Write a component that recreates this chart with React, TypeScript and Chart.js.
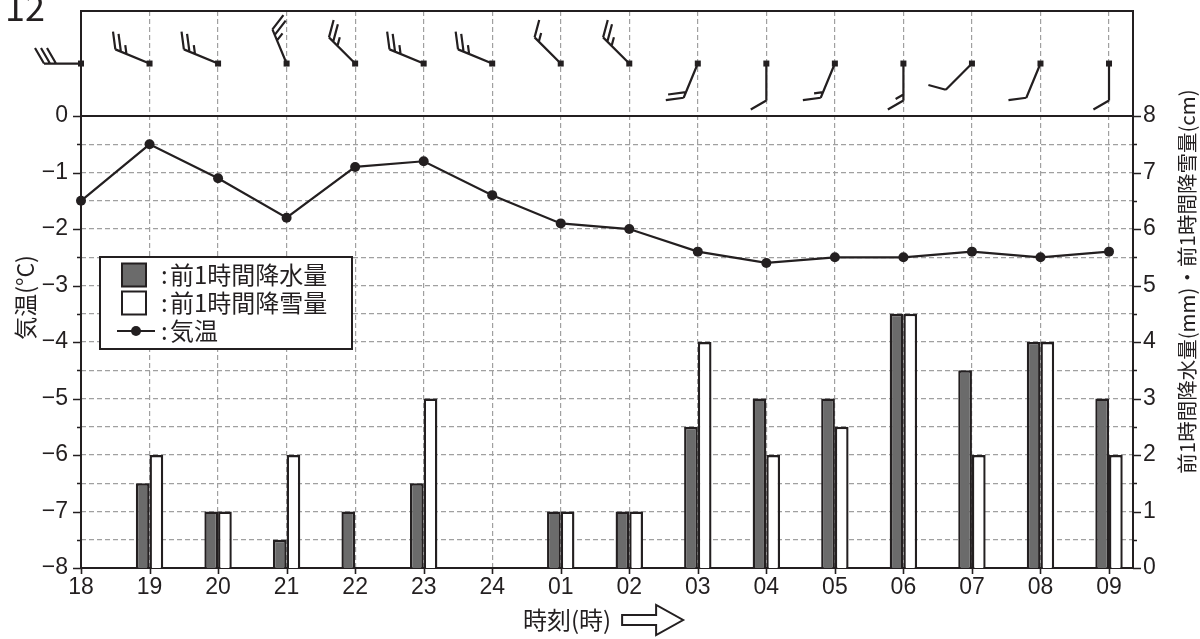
import React, { useEffect, useRef } from 'react';
import { Chart, registerables } from 'chart.js';

Chart.register(...registerables);

// ---- data ----
const hourLabels = ['18', '19', '20', '21', '22', '23', '24', '01', '02', '03', '04', '05', '06', '07', '08', '09'];
const temperature = [-1.5, -0.5, -1.1, -1.8, -0.9, -0.8, -1.4, -1.9, -2.0, -2.4, -2.6, -2.5, -2.5, -2.4, -2.5, -2.4];
const rainfall = [null, 1.5, 1, 0.5, 1, 1.5, 0, 1, 1, 2.5, 3, 3, 4.5, 3.5, 4, 3];
const snowfall = [null, 2, 1, 2, 0, 3, 0, 1, 1, 4, 2, 2.5, 4.5, 2, 4, 2];
const windDirection = ['W', 'WNW', 'WNW', 'NNW', 'NW', 'WNW', 'WNW', 'NW', 'NW', 'SSW', 'S', 'SSW', 'S', 'SW', 'SSW', 'S'];
// barb units: a long barb = 2, a short barb = 1
const windBarbUnits = [6, 5, 5, 5, 5, 5, 5, 3, 5, 4, 2, 3, 3, 2, 2, 2];
const temperatureTicks = [-8, -7, -6, -5, -4, -3, -2, -1, 0];
const precipitationTicks = [0, 1, 2, 3, 4, 5, 6, 7, 8];

const titleText = '12';
const leftAxisTitle = '気温(°C)';
const rightAxisTitle = '前1時間降水量(mm)・前1時間降雪量(cm)';
const xAxisTitle = '時刻(時)';

// ---- styles ----
const BLACK = '#231f20';
const GRID = '#a0a0a0';
const RAIN_FILL = '#6b6b6b';
const JP = '"Noto Sans CJK JP", "Noto Sans", sans-serif';
const NUM = '"Liberation Sans", Arial, sans-serif';
const WIND_PANEL = 1.86; // axis units reserved above 0 for the wind barb strip

const DIR_DEG: Record<string, number> = {
  N: 0, NNE: 22.5, NE: 45, ENE: 67.5, E: 90, ESE: 112.5, SE: 135, SSE: 157.5,
  S: 180, SSW: 202.5, SW: 225, WSW: 247.5, W: 270, WNW: 292.5, NW: 315, NNW: 337.5,
};

function withHalves(major: number[]) {
  const out: number[] = [];
  for (let i = 0; i < major.length; i++) {
    out.push(major[i]);
    if (i < major.length - 1) out.push((major[i] + major[i + 1]) / 2);
  }
  return out;
}

const fmt = (v: number) => (v < 0 ? '\u2212' + Math.abs(v) : String(v));

function drawBarb(ctx: CanvasRenderingContext2D, sx: number, sy: number, dir: string, units: number) {
  const a = (DIR_DEG[dir] * Math.PI) / 180;
  const dx = Math.sin(a);
  const dy = -Math.cos(a);
  const L = 37;
  const tx = sx + dx * L;
  const ty = sy + dy * L;
  const th = Math.atan2(dy, dx) + Math.PI / 3;
  const bx = Math.cos(th);
  const by = Math.sin(th);
  ctx.save();
  ctx.strokeStyle = BLACK;
  ctx.fillStyle = BLACK;
  ctx.lineWidth = 2.2;
  ctx.lineCap = 'butt';
  ctx.beginPath();
  ctx.moveTo(sx, sy);
  ctx.lineTo(tx, ty);
  const nLong = Math.floor(units / 2);
  const nShort = units % 2;
  let k = 0;
  for (let i = 0; i < nLong; i++, k++) {
    const px = tx - dx * 6 * k;
    const py = ty - dy * 6 * k;
    ctx.moveTo(px, py);
    ctx.lineTo(px + bx * 18, py + by * 18);
  }
  for (let i = 0; i < nShort; i++, k++) {
    const px = tx - dx * 6 * k;
    const py = ty - dy * 6 * k;
    ctx.moveTo(px, py);
    ctx.lineTo(px + bx * 9, py + by * 9);
  }
  ctx.stroke();
  ctx.fillRect(sx - 3, sy - 3, 6, 6);
  ctx.restore();
}

const decorPlugin = {
  id: 'decor',
  beforeDatasetsDraw(chart: any) {
    const { ctx, chartArea: ca, scales } = chart;
    const y = scales.y;
    const y1 = scales.y1;
    const x = scales.x;
    ctx.save();
    ctx.strokeStyle = BLACK;
    ctx.lineWidth = 2;
    ctx.strokeRect(ca.left, ca.top, ca.right - ca.left, ca.bottom - ca.top);
    const y0 = y.getPixelForValue(0);
    ctx.beginPath();
    ctx.moveTo(ca.left, y0);
    ctx.lineTo(ca.right, y0);
    ctx.stroke();
    ctx.lineWidth = 1.6;
    ctx.beginPath();
    withHalves(temperatureTicks).forEach((v) => {
      const p = Math.round(y.getPixelForValue(v)) + 0.5;
      const len = Number.isInteger(v) ? 8 : 4;
      ctx.moveTo(ca.left - len, p);
      ctx.lineTo(ca.left, p);
    });
    withHalves(precipitationTicks).forEach((v) => {
      const p = Math.round(y1.getPixelForValue(v)) + 0.5;
      const len = Number.isInteger(v) ? 8 : 4;
      ctx.moveTo(ca.right, p);
      ctx.lineTo(ca.right + len, p);
    });
    hourLabels.forEach((_, i) => {
      const p = Math.round(x.getPixelForValue(i)) + 0.5;
      ctx.moveTo(p, ca.bottom);
      ctx.lineTo(p, ca.bottom + 6);
    });
    ctx.stroke();
    ctx.restore();
  },
  afterDatasetsDraw(chart: any) {
    const { ctx, chartArea: ca, scales } = chart;
    const x = scales.x;
    const y = scales.y;
    ctx.save();

    // wind barbs
    const sy = (ca.top + y.getPixelForValue(0)) / 2;
    windDirection.forEach((d, i) => {
      drawBarb(ctx, x.getPixelForValue(i), sy, d, windBarbUnits[i]);
    });

    // legend
    const lx = 100, ly = 257, lw = 252, lh = 92;
    ctx.fillStyle = '#fff';
    ctx.fillRect(lx, ly, lw, lh);
    ctx.strokeStyle = BLACK;
    ctx.lineWidth = 2;
    ctx.strokeRect(lx, ly, lw, lh);
    const rows = [ly + 18, ly + 46, ly + 74];
    const ds = chart.data.datasets;
    ctx.fillStyle = RAIN_FILL;
    ctx.fillRect(122, rows[0] - 11.5, 24, 23);
    ctx.strokeRect(122, rows[0] - 11.5, 24, 23);
    ctx.fillStyle = '#fff';
    ctx.fillRect(122, rows[1] - 11.5, 24, 23);
    ctx.strokeRect(122, rows[1] - 11.5, 24, 23);
    ctx.beginPath();
    ctx.lineWidth = 2.2;
    ctx.moveTo(117, rows[2]);
    ctx.lineTo(155, rows[2]);
    ctx.stroke();
    ctx.fillStyle = BLACK;
    ctx.beginPath();
    ctx.arc(136, rows[2], 5, 0, Math.PI * 2);
    ctx.fill();
    ctx.font = `24px ${JP}`;
    ctx.textBaseline = 'middle';
    ctx.textAlign = 'left';
    const legendOrder = [ds[1].label, ds[2].label, ds[0].label];
    legendOrder.forEach((t: string, i: number) => {
      ctx.fillText(':', 161, rows[i]);
      ctx.fillText(t, 170, rows[i]);
    });

    // title
    ctx.font = `36px ${JP}`;
    ctx.textBaseline = 'alphabetic';
    ctx.fillText(titleText, 5, 21);

    // axis titles
    const midY = (ca.top + ca.bottom) / 2;
    ctx.textAlign = 'center';
    ctx.textBaseline = 'middle';
    ctx.font = `23px ${JP}`;
    ctx.save();
    ctx.translate(25, midY + 8);
    ctx.rotate(-Math.PI / 2);
    ctx.fillText(leftAxisTitle, 0, 0);
    ctx.restore();
    ctx.font = `20.5px ${JP}`;
    ctx.save();
    ctx.translate(1187, midY - 8);
    ctx.rotate(-Math.PI / 2);
    ctx.fillText(rightAxisTitle, 0, 0);
    ctx.restore();

    // x title + arrow
    ctx.font = `24px ${JP}`;
    const tw = ctx.measureText(xAxisTitle).width;
    const aw = 61, gap = 11;
    const total = tw + gap + aw;
    const cx = (ca.left + ca.right) / 2 - 4;
    const tx0 = cx - total / 2;
    const ty = 620;
    ctx.textAlign = 'left';
    ctx.fillText(xAxisTitle, tx0, ty);
    const ax = tx0 + tw + gap;
    ctx.beginPath();
    ctx.moveTo(ax, ty - 5);
    ctx.lineTo(ax + 34, ty - 5);
    ctx.lineTo(ax + 34, ty - 15);
    ctx.lineTo(ax + aw, ty);
    ctx.lineTo(ax + 34, ty + 15);
    ctx.lineTo(ax + 34, ty + 5);
    ctx.lineTo(ax, ty + 5);
    ctx.closePath();
    ctx.fillStyle = '#fff';
    ctx.fill();
    ctx.lineWidth = 2;
    ctx.lineJoin = 'miter';
    ctx.stroke();

    ctx.restore();
  },
};

export default function App() {
  const ref = useRef<HTMLCanvasElement>(null);
  useEffect(() => {
    const tempTickValues = withHalves(temperatureTicks);
    const precipTickValues = withHalves(precipitationTicks);
    const chart = new Chart(ref.current as HTMLCanvasElement, {
      type: 'bar',
      data: {
        datasets: [
          {
            type: 'line',
            label: '気温',
            data: temperature.map((v, i) => ({ x: i, y: v })),
            yAxisID: 'y',
            borderColor: BLACK,
            borderWidth: 2.2,
            pointRadius: 5,
            pointBackgroundColor: BLACK,
            pointBorderWidth: 0,
            tension: 0,
            clip: false,
            order: 0,
          } as any,
          {
            type: 'bar',
            label: '前1時間降水量',
            data: rainfall.map((v, i) => ({ x: i, y: v })),
            yAxisID: 'y1',
            backgroundColor: RAIN_FILL,
            borderColor: BLACK,
            borderWidth: 2.4,
            categoryPercentage: 0.4,
            barPercentage: 1,
            order: 1,
          } as any,
          {
            type: 'bar',
            label: '前1時間降雪量',
            data: snowfall.map((v, i) => ({ x: i, y: v })),
            yAxisID: 'y1',
            backgroundColor: '#ffffff',
            borderColor: BLACK,
            borderWidth: 2.4,
            categoryPercentage: 0.4,
            barPercentage: 1,
            order: 2,
          } as any,
        ],
      },
      options: {
        responsive: false,
        animation: false,
        layout: { padding: { top: 11, left: 0, right: 0, bottom: 0 } },
        plugins: { legend: { display: false }, tooltip: { enabled: false } },
        scales: {
          x: {
            type: 'linear',
            min: 0,
            max: 15.35,
            offset: false,
            afterBuildTicks: (s: any) => {
              s.ticks = hourLabels.map((_, i) => ({ value: i }));
            },
            afterFit: (s: any) => {
              s.height = 71;
              s.paddingLeft = 0;
              s.paddingRight = 0;
            },
            ticks: {
              autoSkip: false,
              maxRotation: 0,
              padding: 6,
              color: BLACK,
              font: { family: NUM, size: 23 },
              callback: (v: any) => hourLabels[v] ?? '',
            },
            grid: { display: true, drawTicks: false, offset: false, color: GRID, lineWidth: 1.2 },
            border: { display: false, dash: [5, 3] },
          },
          y: {
            type: 'linear',
            position: 'left',
            min: -8,
            max: WIND_PANEL,
            afterBuildTicks: (s: any) => {
              s.ticks = tempTickValues.map((v) => ({ value: v }));
            },
            afterFit: (s: any) => {
              s.width = 81;
              s.paddingTop = 0;
              s.paddingBottom = 0;
            },
            ticks: {
              padding: 13,
              color: BLACK,
              font: { family: NUM, size: 23 },
              callback: (v: any) => (Number.isInteger(v) ? fmt(v) : ''),
            },
            grid: {
              display: true,
              drawTicks: false,
              color: (c: any) => (c.tick && (c.tick.value === 0 || c.tick.value === -8) ? 'rgba(0,0,0,0)' : GRID),
              lineWidth: 1.2,
            },
            border: { display: false, dash: [5, 3] },
          },
          y1: {
            type: 'linear',
            position: 'right',
            min: 0,
            max: 8 + WIND_PANEL,
            afterBuildTicks: (s: any) => {
              s.ticks = precipTickValues.map((v) => ({ value: v }));
            },
            afterFit: (s: any) => {
              s.width = 67;
              s.paddingTop = 0;
              s.paddingBottom = 0;
            },
            ticks: {
              padding: 10,
              color: BLACK,
              font: { family: NUM, size: 23 },
              callback: (v: any) => (Number.isInteger(v) ? fmt(v) : ''),
            },
            grid: { display: false, drawTicks: false },
            border: { display: false },
          },
        },
      },
      plugins: [decorPlugin],
    } as any);
    return () => chart.destroy();
  }, []);
  return (
    <div style={{ position: 'absolute', left: 0, top: 0, width: 1200, height: 639, background: '#fff' }}>
      <canvas ref={ref} width={1200} height={639} style={{ display: 'block', width: 1200, height: 639 }} />
    </div>
  );
}
